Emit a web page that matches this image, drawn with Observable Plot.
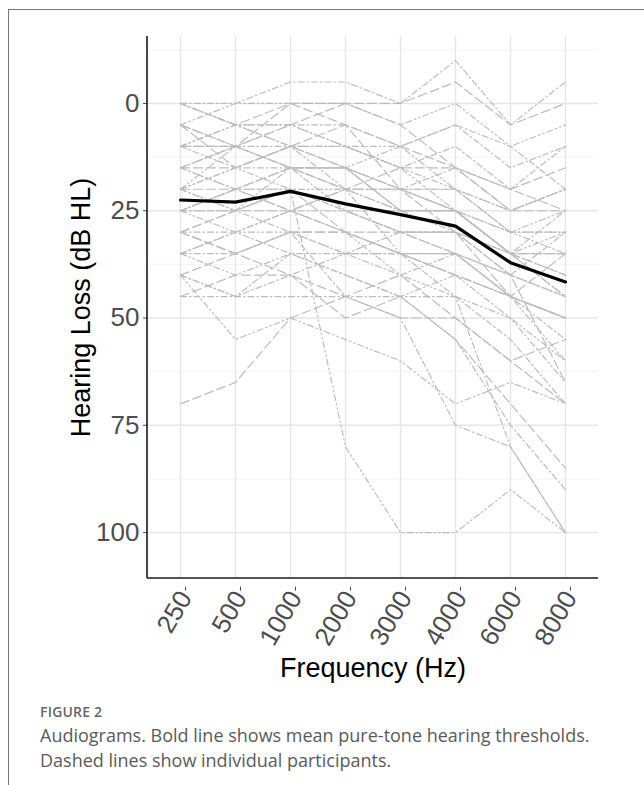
<!DOCTYPE html>
<html>
<head>
<meta charset="utf-8">
<script src="https://cdn.jsdelivr.net/npm/d3@7"></script>
<script src="https://cdn.jsdelivr.net/npm/@observablehq/plot@0.6"></script>
<style>
  html, body { margin: 0; padding: 0; background: #fff; }
  body { width: 644px; height: 785px; position: relative; overflow: hidden; }
  #frame { position: absolute; left: 8px; top: 9px; width: 640px; height: 780px;
           border-left: 1px solid #74747f; border-top: 1px solid #74747f; }
  #chart { position: absolute; left: 0; top: 0; }
  #caption { position: absolute; left: 40px; top: 702px; width: 600px;
             font-family: "Open Sans", "Noto Sans", sans-serif; color: #5a5a5a; }
  #caption .fig { font-size: 14px; font-weight: 600; letter-spacing: 0.2px; color: #666; margin-bottom: 2px; }
  #caption .txt { font-size: 18px; line-height: 25px; font-weight: 400; }
</style>
</head>
<body>
<div id="frame"></div>
<div id="chart"></div>
<div id="caption">
  <div class="fig">FIGURE 2</div>
  <div class="txt">Audiograms. Bold line shows mean pure-tone hearing thresholds.<br>Dashed lines show individual participants.</div>
</div>
<script>
// ---- data ----
const frequencies = ["250", "500", "1000", "2000", "3000", "4000", "6000", "8000"];
const yTicks = [0, 25, 50, 75, 100];
const yMinorTicks = [-12.5, 12.5, 37.5, 62.5, 87.5];
// mean pure-tone thresholds (dB HL)
const meanThreshold = [22.5, 23, 20.5, 23.4, 25.9, 28.6, 37.1, 41.6];
// individual participants: thresholds at 250..8000 Hz (dB HL)
const p01 = [0, 0, -5, -5, 0, -10, 5, -5];
const p02 = [0, 5, 0, 0, 0, -5, 5, 0];
const p03 = [5, 0, 0, 0, 5, 0, 10, 5];
const p04 = [0, 5, 5, 5, 10, 5, 15, 10];
const p05 = [5, 10, 5, 0, 5, 15, 20, 15];
const p06 = [10, 5, 5, 10, 10, 20, 25, 20];
const p07 = [10, 10, 10, 10, 15, 10, 20, 10];
const p08 = [5, 15, 10, 5, 10, 15, 25, 25];
const p09 = [15, 10, 5, 10, 15, 20, 30, 25];
const p10 = [10, 15, 15, 15, 20, 20, 30, 30];
const p11 = [15, 15, 10, 15, 25, 25, 35, 35];
const p12 = [20, 10, 15, 15, 20, 25, 35, 30];
const p13 = [15, 20, 15, 20, 20, 15, 25, 20];
const p14 = [20, 20, 15, 15, 25, 25, 35, 40];
const p15 = [20, 25, 20, 20, 25, 25, 35, 45];
const p16 = [25, 20, 20, 25, 30, 35, 40, 30];
const p17 = [25, 20, 25, 30, 35, 35, 45, 50];
const p18 = [20, 15, 20, 20, 20, 25, 30, 35];
const p19 = [25, 25, 20, 25, 25, 30, 35, 25];
const p20 = [30, 25, 25, 20, 20, 30, 35, 35];
const p21 = [25, 30, 30, 35, 35, 40, 50, 60];
const p22 = [30, 30, 25, 25, 30, 30, 40, 45];
const p23 = [30, 35, 30, 30, 35, 35, 40, 65];
const p24 = [35, 30, 25, 20, 25, 25, 35, 40];
const p25 = [35, 35, 30, 35, 35, 45, 55, 70];
const p26 = [40, 35, 30, 30, 30, 30, 45, 35];
const p27 = [35, 40, 35, 40, 45, 40, 45, 50];
const p28 = [40, 45, 35, 35, 40, 35, 45, 55];
const p29 = [45, 40, 40, 45, 40, 50, 60, 70];
const p30 = [40, 55, 50, 55, 60, 70, 65, 70];
const p31 = [45, 45, 45, 45, 45, 45, 80, 100];
const p32 = [70, 65, 50, 45, 50, 50, 60, 55];
const p33 = [25, 20, 20, 80, 100, 100, 90, 100];
const p34 = [20, 25, 30, 45, 50, 75, 80, 100];
const p35 = [30, 35, 40, 50, 45, 55, 70, 85];
const p36 = [10, 5, 10, 20, 35, 40, 45, 60];
const p37 = [5, 10, 15, 25, 30, 30, 40, 45];
const p38 = [15, 10, 0, 5, 20, 25, 35, 45];
const p39 = [20, 15, 10, 10, 15, 25, 30, 30];
const p40 = [0, 5, 10, 15, 10, 5, 10, 20];
const p41 = [10, 10, 15, 20, 15, 15, 20, 25];
const p42 = [15, 20, 25, 30, 40, 45, 50, 65];
const p43 = [35, 30, 35, 40, 45, 55, 75, 90];
const p44 = [30, 25, 20, 30, 35, 40, 45, 50];
const p45 = [25, 25, 15, 15, 20, 20, 25, 20];
const p46 = [40, 45, 40, 35, 30, 35, 45, 50];
const participants = [p01,p02,p03,p04,p05,p06,p07,p08,p09,p10,p11,p12,p13,p14,p15,p16,
  p17,p18,p19,p20,p21,p22,p23,p24,p25,p26,p27,p28,p29,p30,p31,p32,p33,p34,p35,p36,p37,
  p38,p39,p40,p41,p42,p43,p44,p45,p46];

// ---- tables built from the arrays ----
const rows = participants.flatMap((vals, i) =>
  vals.map((v, j) => ({id: i, freq: frequencies[j], db: v})));
const meanRows = meanThreshold.map((v, j) => ({freq: frequencies[j], db: v}));
const dashStyles = ["6,3,1.5,3", "9,4", "6,3,1.5,3,1.5,3"];

const font = "'Liberation Sans', Arial, Helvetica, sans-serif";

const plot = Plot.plot({
  width: 644,
  height: 690,
  marginLeft: 147,
  marginRight: 46,
  marginTop: 36,
  marginBottom: 112,
  style: {fontFamily: font, background: "transparent", overflow: "visible"},
  x: {type: "point", domain: frequencies, padding: 0.6, label: null},
  y: {domain: [-15.6, 110.7], reverse: true, label: null},
  marks: [
    Plot.ruleY(yMinorTicks, {stroke: "#f2f2f2", strokeWidth: 0.9}),
    Plot.ruleY(yTicks, {stroke: "#e6e6e6", strokeWidth: 1.4}),
    Plot.ruleX(frequencies, {stroke: "#e6e6e6", strokeWidth: 1.4}),
    ...dashStyles.map((dash, k) =>
      Plot.line(rows.filter(d => d.id % dashStyles.length === k), {
        x: "freq", y: "db", z: "id",
        stroke: "#bcbcbc", strokeWidth: 1.2, strokeDasharray: dash
      })),
    Plot.line(meanRows, {x: "freq", y: "db", stroke: "#000", strokeWidth: 3.2}),
    Plot.axisY(yTicks, {tickSize: 4, tickPadding: 4, fontSize: 26, color: "#4d4d4d", label: null}),
    Plot.axisX(frequencies, {tickSize: 4, tickPadding: 2, tickRotate: -60, dx: 5, dy: 8.7, fontSize: 26, color: "#4d4d4d", label: null}),
    Plot.text(["Frequency (Hz)"], {frameAnchor: "bottom", dy: 90, fontSize: 27, fill: "#000", lineAnchor: "middle"}),
    Plot.text(["Hearing Loss (dB HL)"], {frameAnchor: "left", dx: -66, rotate: -90, textAnchor: "middle", fontSize: 27, fill: "#000", lineAnchor: "middle"})
  ]
});

// axis lines (left and bottom) from the scales' ranges
const xr = plot.scale("x").range, yr = plot.scale("y").range;
const x0 = Math.min(...xr), x1 = Math.max(...xr);
const y0 = Math.min(...yr), y1 = Math.max(...yr);
const svg = d3.select(plot);
svg.append("line").attr("x1", x0).attr("x2", x0).attr("y1", y0).attr("y2", y1)
  .attr("stroke", "#1a1a1a").attr("stroke-width", 1.6);
svg.append("line").attr("x1", x0).attr("x2", x1).attr("y1", y1).attr("y2", y1)
  .attr("stroke", "#1a1a1a").attr("stroke-width", 1.6);

document.getElementById("chart").appendChild(plot);
</script>
</body>
</html>
